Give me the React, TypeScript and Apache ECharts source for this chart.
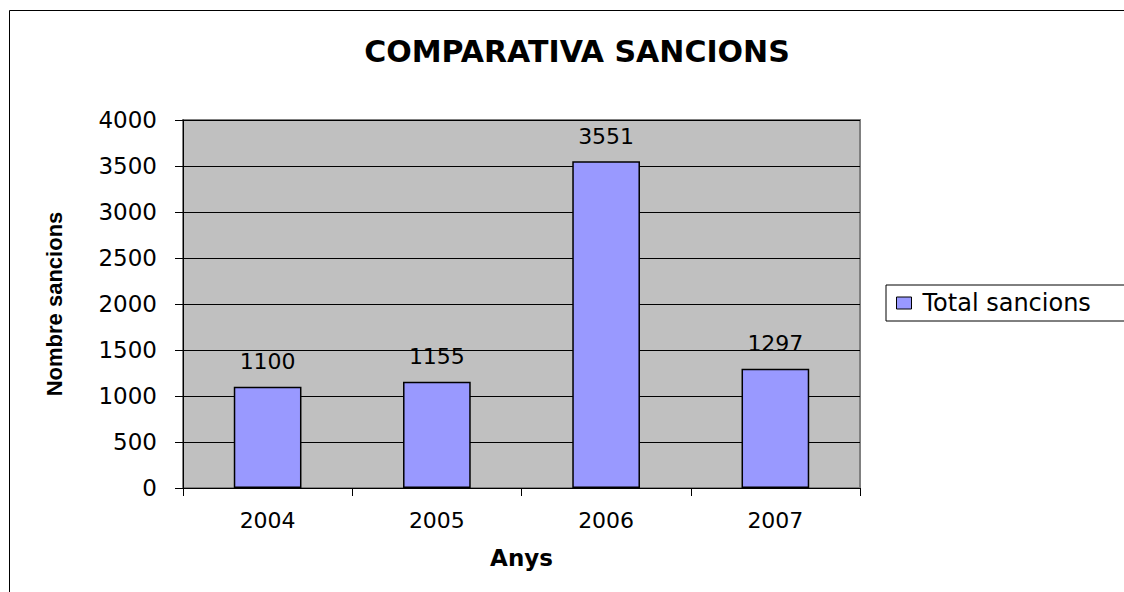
import React, { useEffect, useRef } from "react";
import * as echarts from "echarts";

const categories = ["2004", "2005", "2006", "2007"];
const totalSancions = [1100, 1155, 3551, 1297];
const seriesName = "Total sancions";

export default function App() {
  const ref = useRef<HTMLDivElement>(null);
  useEffect(() => {
    if (!ref.current) return;
    const chart = echarts.init(ref.current, null, { renderer: "svg" });
    const font = "'DejaVu Sans', Arial, sans-serif";
    chart.setOption({
      animation: false,
      backgroundColor: "#ffffff",
      textStyle: { fontFamily: font, color: "#000" },
      title: {
        text: "COMPARATIVA SANCIONS",
        left: 572,
        top: 31,
        textAlign: "center",
        textStyle: { fontFamily: font, fontSize: 30, fontWeight: "bold", color: "#000" },
      },
      legend: {
        data: [seriesName],
        left: 886,
        top: 285,
        orient: "vertical",
        itemWidth: 15,
        itemHeight: 12,
        itemGap: 0,
        padding: [6, 60, 6, 10],
        borderColor: "#000",
        borderWidth: 1,
        icon: "rect",
        itemStyle: { borderColor: "#000", borderWidth: 1 },
        textStyle: { fontFamily: font, fontSize: 24, color: "#000", padding: [0, 0, 0, 6] },
      },
      grid: { left: 183, top: 120, width: 677, height: 368, containLabel: false, show: true, backgroundColor: "#C0C0C0", borderColor: "#808080", borderWidth: 2 },
      xAxis: {
        type: "category",
        data: categories,
        name: "Anys",
        nameLocation: "middle",
        nameGap: 58,
        nameMoveOverlap: false,
        nameTextStyle: { fontFamily: font, fontSize: 23, fontWeight: "bold", color: "#000" },
        axisLine: { show: true, lineStyle: { color: "#000", width: 1 } },
        axisTick: { show: true, length: 8, lineStyle: { color: "#000" } },
        axisLabel: { fontFamily: font, fontSize: 22, color: "#000", margin: 21 },
        splitLine: { show: false },
      },
      yAxis: {
        type: "value",
        min: 0,
        max: 4000,
        interval: 500,
        name: "Nombre sancions",
        nameLocation: "middle",
        nameRotate: 90,
        nameGap: 118,
        nameMoveOverlap: false,
        nameTextStyle: { fontFamily: "Arial, 'Liberation Sans', sans-serif", fontSize: 22, fontWeight: "bold", color: "#000" },
        axisLine: { show: true, lineStyle: { color: "#000", width: 1 } },
        axisTick: { show: true, length: 8, lineStyle: { color: "#000" } },
        axisLabel: { fontFamily: font, fontSize: 23, color: "#000", margin: 26, formatter: (v: number) => String(v) },
        splitLine: { show: true, lineStyle: { color: "#000", width: 1 } },
      },
      series: [
        {
          name: seriesName,
          type: "bar",
          data: totalSancions,
          barWidth: "40%",
          itemStyle: { color: "#9999FF", borderColor: "#000", borderWidth: 1.5 },
          label: { show: true, position: "top", distance: 14, fontFamily: font, fontSize: 22, color: "#000" },
        },
      ],
      graphic: [
        {
          type: "rect",
          shape: { x: 9.5, y: 10.5, width: 1200, height: 700 },
          style: { fill: "none", stroke: "#000", lineWidth: 1 },
          silent: true,
          z: -1,
        },
      ],
    });
    return () => chart.dispose();
  }, []);
  return <div ref={ref} style={{ position: "fixed", left: 0, top: 0, width: 1124, height: 592 }} />;
}
